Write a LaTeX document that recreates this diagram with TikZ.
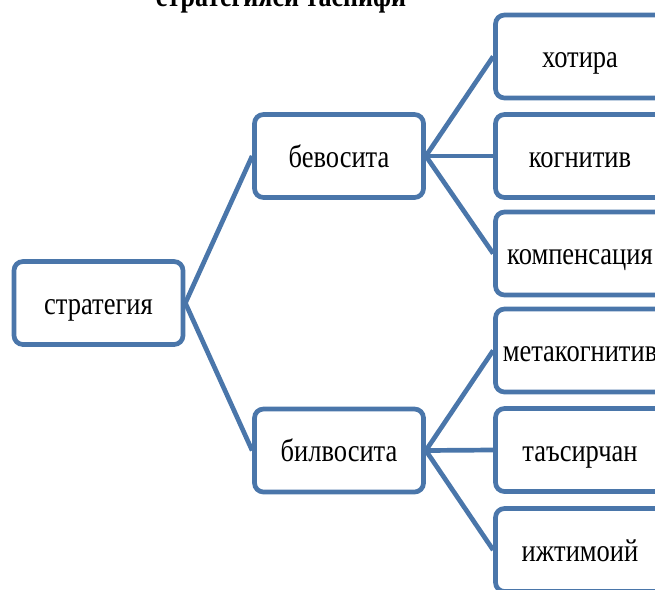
\documentclass[tikz,border=0pt]{standalone}
\usepackage{fontspec}
\setmainfont{Liberation Serif}
\definecolor{boxblue}{RGB}{74,118,170}
% box labels are set slightly tall
\newcommand{\tallText}[1]{\scalebox{1}[1.2]{#1}}
\begin{document}
\begin{tikzpicture}[x=1pt,y=-1pt,
  box/.style={draw=boxblue, line width=4.7pt, rounded corners=9pt, fill=white,
    minimum width=169pt, minimum height=83pt, inner sep=0pt,
    text height=24pt, text depth=2pt,
    font=\fontsize{26.5}{30}\selectfont},
  link/.style={draw=boxblue, line width=4.7pt}]
\useasboundingbox (0,0) rectangle (655,589);
\clip (0,0) rectangle (655,589);

% title
\node[anchor=base, font=\bfseries\fontsize{26}{30}\selectfont] (title) at (281,6) {\tallText{стратегияси таснифи}};

% tree nodes
\node[box] (root) at (98.5,303) {\tallText{стратегия}};
\node[box] (dir)  at (339,156) {\tallText{бевосита}};
\node[box] (ind)  at (339,450.5) {\tallText{билвосита}};

\node[box] (d1) at (580,56.5) {\tallText{хотира}};
\node[box] (d2) at (580,156) {\tallText{когнитив}};
\node[box] (d3) at (580,253.5) {\tallText{компенсация}};
\node[box] (i1) at (580,350.5) {\tallText{метакогнитив}};
\node[box] (i2) at (580,450) {\tallText{таъсирчан}};
\node[box] (i3) at (580,550) {\tallText{ижтимоий}};

% connectors
\path[link] (root.east) -- (dir.west);
\path[link] (root.east) -- (ind.west);
\foreach \c in {d1,d2,d3} \path[link] (dir.east) -- (\c.west);
\foreach \c in {i1,i2,i3} \path[link] (ind.east) -- (\c.west);
\end{tikzpicture}
\end{document}
